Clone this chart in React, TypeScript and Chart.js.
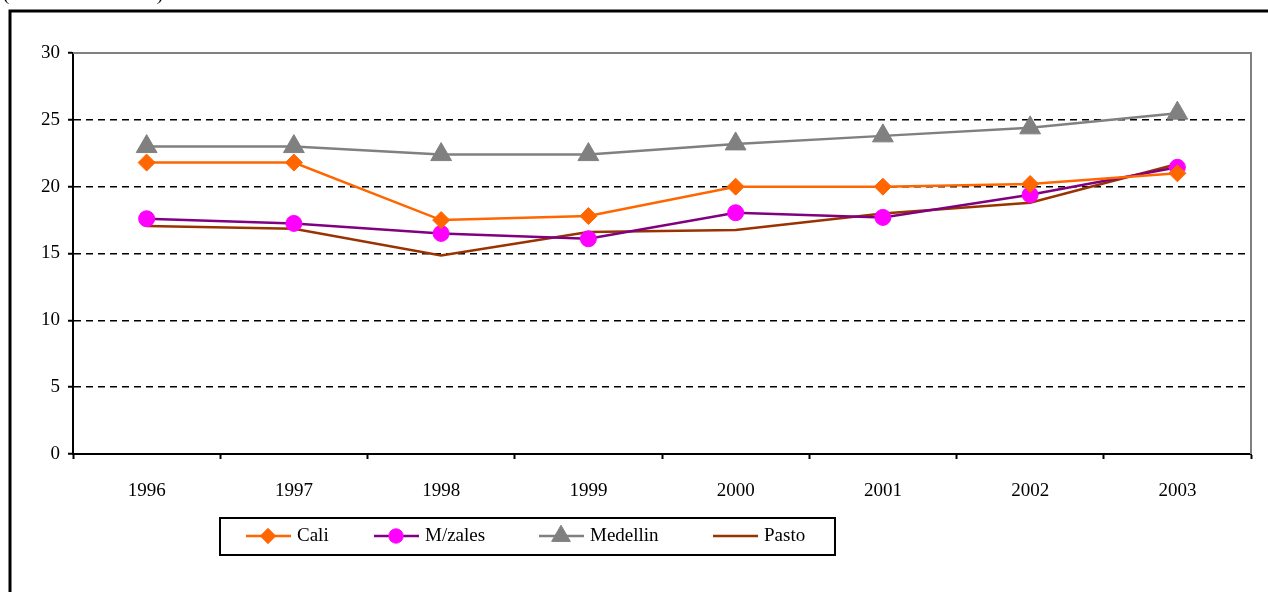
import { useEffect, useRef } from "react";
import { Chart, registerables } from "chart.js";
import { drawPoint } from "chart.js/helpers";

// Registra todos os controladores, elementos, escalas e plugins do Chart.js
Chart.register(...registerables);

const years = ["1996", "1997", "1998", "1999", "2000", "2001", "2002", "2003"];
const cali = [21.8, 21.8, 17.5, 17.8, 20.0, 20.0, 20.2, 21.0];
const mzales = [17.6, 17.25, 16.5, 16.1, 18.05, 17.7, 19.4, 21.45];
const medellin = [23.0, 23.0, 22.4, 22.4, 23.2, 23.8, 24.4, 25.5];
const pasto = [17.05, 16.85, 14.85, 16.6, 16.75, 18.0, 18.8, 21.7];
const yMin = 0;
const yMax = 30;
const yStep = 5;
const caption = "(continuación)";

const FONT = '"Liberation Serif", "Times New Roman", serif';
const legendSlots = [246, 374, 539, 713];

const framePlugin = {
  id: "frame",
  beforeDatasetsDraw(chart: any) {
    const { ctx, chartArea: a } = chart;
    // borde gris del área de trazado (arriba y derecha)
    ctx.save();
    ctx.strokeStyle = "#808080";
    ctx.lineWidth = 2;
    ctx.beginPath();
    ctx.moveTo(a.left, a.top);
    ctx.lineTo(a.right, a.top);
    ctx.lineTo(a.right, a.bottom);
    ctx.stroke();
    ctx.restore();
  },
  afterDraw(chart: any) {
    const { ctx } = chart;
    ctx.save();
    // marco exterior
    ctx.strokeStyle = "#000";
    ctx.lineWidth = 3;
    ctx.strokeRect(10, 11, chart.width + 50, chart.height + 50);

    // título cortado arriba
    ctx.fillStyle = "#000";
    ctx.font = `19px ${FONT}`;
    ctx.textBaseline = "alphabetic";
    ctx.textAlign = "left";
    (ctx as any).letterSpacing = "3.8px";
    ctx.fillText(caption, 3, -0.5);
    (ctx as any).letterSpacing = "0px";

    // leyenda
    ctx.lineWidth = 2;
    ctx.strokeStyle = "#000";
    ctx.strokeRect(220, 518, 615, 37);
    const cy = 536;
    chart.data.datasets.forEach((ds: any, i: number) => {
      const x0 = legendSlots[i];
      ctx.strokeStyle = ds.borderColor;
      ctx.lineWidth = ds.borderWidth;
      ctx.beginPath();
      ctx.moveTo(x0, cy);
      ctx.lineTo(x0 + 45, cy);
      ctx.stroke();
      if (ds.pointRadius > 0) {
        ctx.fillStyle = ds.pointBackgroundColor;
        ctx.strokeStyle = ds.pointBorderColor;
        ctx.lineWidth = 1;
        drawPoint(
          ctx,
          { pointStyle: ds.pointStyle, radius: ds.pointRadius * 0.9, rotation: 0, borderWidth: 1 },
          x0 + 22,
          cy
        );
      }
      ctx.fillStyle = "#000";
      ctx.font = `19px ${FONT}`;
      ctx.textBaseline = "middle";
      ctx.fillText(ds.label, x0 + 51, cy);
    });
    ctx.restore();
  },
};

export default function App() {
  const chartRef = useRef<HTMLCanvasElement>(null);
  const chartInstance = useRef<Chart | null>(null);

  useEffect(() => {
    const canvas = chartRef.current;
    if (!canvas) return;

    chartInstance.current = new Chart(canvas, {
      type: "line",
      data: {
        labels: years,
        datasets: [
          {
            label: "Cali",
            data: cali,
            borderColor: "#FF6600",
            borderWidth: 2.5,
            pointStyle: "rectRot",
            pointRadius: 8.5,
            pointBackgroundColor: "#FF6600",
            pointBorderColor: "#FF6600",
            pointBorderWidth: 1,
            tension: 0,
          },
          {
            label: "M/zales",
            data: mzales,
            borderColor: "#800080",
            borderWidth: 2.5,
            pointStyle: "circle",
            pointRadius: 8,
            pointBackgroundColor: "#FF00FF",
            pointBorderColor: "#FF00FF",
            pointBorderWidth: 1,
            tension: 0,
          },
          {
            label: "Medellin",
            data: medellin,
            borderColor: "#808080",
            borderWidth: 2.5,
            pointStyle: "triangle",
            pointRadius: 12,
            pointBackgroundColor: "#808080",
            pointBorderColor: "#808080",
            pointBorderWidth: 1,
            tension: 0,
          },
          {
            label: "Pasto",
            data: pasto,
            borderColor: "#993300",
            borderWidth: 2.5,
            pointRadius: 0,
            tension: 0,
          },
        ],
      },
      options: {
        responsive: true,
        maintainAspectRatio: false,
        animation: false,
        events: [],
        layout: { padding: { top: 53, right: 17, left: 0, bottom: 0 } },
        plugins: {
          legend: { display: false },
          tooltip: { enabled: false },
        },
        scales: {
          x: {
            type: "category",
            offset: true,
            grid: {
              offset: true,
              drawOnChartArea: false,
              drawTicks: true,
              tickLength: 5,
              tickColor: "#000",
              tickWidth: 2,
            },
            border: { display: true, color: "#000", width: 2 },
            ticks: {
              color: "#000",
              font: { family: FONT, size: 19 },
              padding: 21,
              autoSkip: false,
              maxRotation: 0,
            },
            afterFit: (s: any) => {
              s.height = 138;
            },
          },
          y: {
            min: yMin,
            max: yMax,
            ticks: {
              stepSize: yStep,
              color: "#000",
              font: { family: FONT, size: 19 },
              padding: 8,
            },
            grid: {
              color: (c: any) =>
                c.tick && c.tick.value > yMin && c.tick.value < yMax ? "#000" : "rgba(0,0,0,0)",
              lineWidth: 1.5,
              drawTicks: true,
              tickLength: 5,
              tickColor: "#000",
              tickWidth: 2,
            },
            border: { display: true, color: "#000", width: 2, dash: [7, 5] },
            afterFit: (s: any) => {
              s.width = 73;
            },
          },
        },
      },
      plugins: [framePlugin],
    });

    return () => {
      if (chartInstance.current) {
        chartInstance.current.destroy();
        chartInstance.current = null;
      }
    };
  }, []);

  return (
    <div style={{ position: "absolute", left: 0, top: 0, width: 1268, height: 592, background: "#fff" }}>
      <canvas ref={chartRef} />
    </div>
  );
}
